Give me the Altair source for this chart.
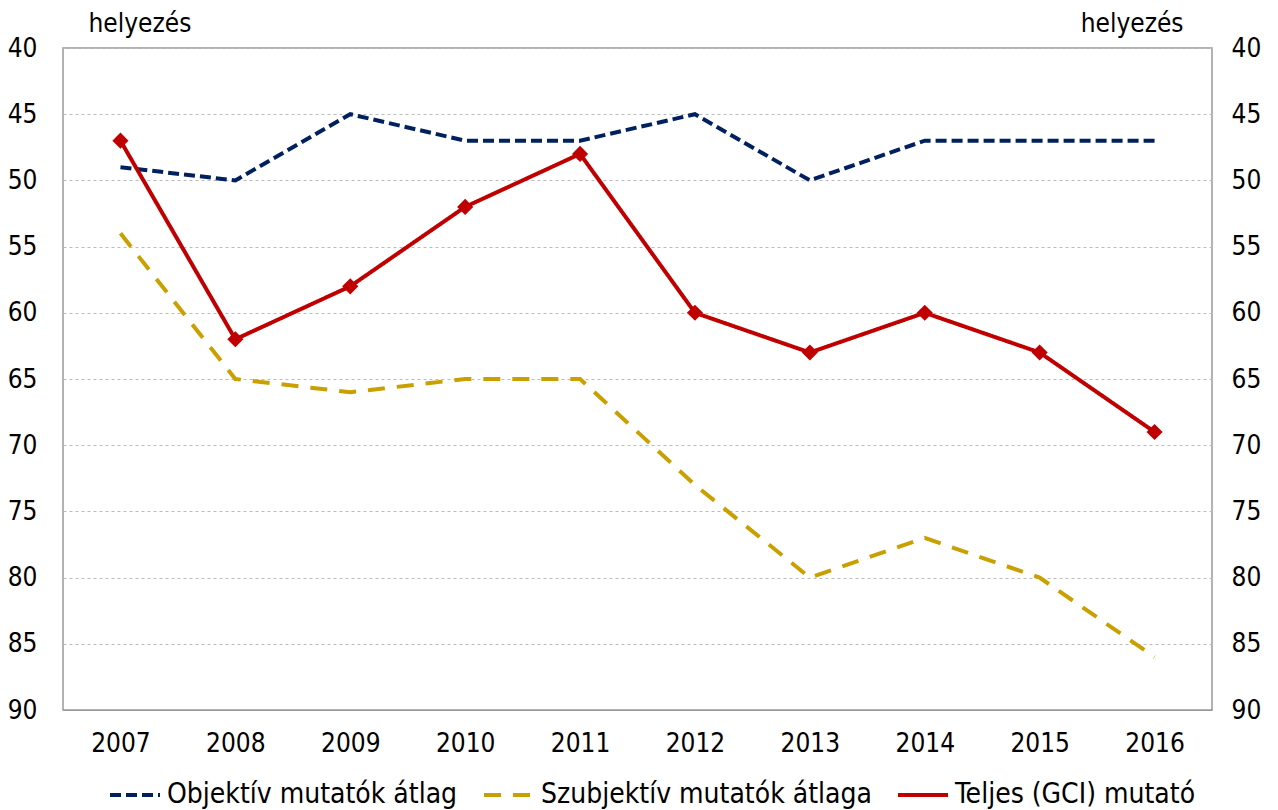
import altair as alt
import pandas as pd

years = ["2007", "2008", "2009", "2010", "2011", "2012", "2013", "2014", "2015", "2016"]
objektiv = [49, 50, 45, 47, 47, 45, 50, 47, 47, 47]
szubjektiv = [54, 65, 66, 65, 65, 73, 80, 77, 80, 86]
teljes = [47, 62, 58, 52, 48, 60, 63, 60, 63, 69]

series_names = ["Objektív mutatók átlag", "Szubjektív mutatók átlaga", "Teljes (GCI) mutató"]
colors = ["#002060", "#C9A000", "#C00000"]
dashes = [[11, 5], [17, 12], [1, 0]]

rows = []
for name, vals in zip(series_names, [objektiv, szubjektiv, teljes]):
    for y, v in zip(years, vals):
        rows.append({"ev": y, "sorozat": name, "helyezes": v})
df = pd.DataFrame(rows)

FONT = "DejaVu Sans Condensed"
FS = 26

x_enc = alt.X("ev:N", scale=alt.Scale(type="point", padding=0.5),
              axis=alt.Axis(title=None, labelAngle=0, ticks=False, labelPadding=20,
                            labelFontSize=FS, domainColor="#999999", grid=False))

y_scale = alt.Scale(domain=[40, 90], reverse=True, nice=False, zero=False)

lines = alt.Chart(df).mark_line(strokeWidth=4).encode(
    x=x_enc,
    y=alt.Y("helyezes:Q", scale=y_scale,
            axis=alt.Axis(values=list(range(40, 95, 5)), title="helyezés", titleAngle=0,
                          titleX=25, titleY=-17, titleAlign="left", titleBaseline="alphabetic",
                          titleFontSize=FS, titleFontWeight="normal",
                          ticks=False, labelPadding=26, labelFontSize=FS, domain=False,
                          grid=True, gridDash=[3, 3], gridColor="#bbbbbb")),
    color=alt.Color("sorozat:N", scale=alt.Scale(domain=series_names, range=colors),
                    legend=alt.Legend(title=None, orient="none", direction="horizontal",
                                      legendX=45, legendY=720, labelFontSize=28, labelLimit=0,
                                      symbolType="stroke", symbolSize=2500,
                                      symbolStrokeWidth=4, columnPadding=18, labelOffset=5)),
    strokeDash=alt.StrokeDash("sorozat:N", scale=alt.Scale(domain=series_names, range=dashes),
                              legend=None),
)

points = alt.Chart(df).transform_filter(
    alt.datum.sorozat == "Teljes (GCI) mutató"
).mark_point(shape="diamond", filled=True, size=260, opacity=1, color="#C00000").encode(
    x=x_enc,
    y=alt.Y("helyezes:Q", scale=y_scale, axis=None),
)

right = alt.Chart(df).mark_line(opacity=0).encode(
    x=x_enc,
    y=alt.Y("helyezes:Q", scale=y_scale,
            axis=alt.Axis(orient="right", values=list(range(40, 95, 5)), title="helyezés",
                          titleAngle=0, titleX=-29, titleY=-17, titleAlign="right",
                          titleBaseline="alphabetic", titleFontSize=FS, titleFontWeight="normal",
                          ticks=False, labelPadding=19, labelFontSize=FS, domain=False,
                          grid=False)),
    detail="sorozat:N",
)

chart = alt.layer(lines, points, right).resolve_scale(y="independent").properties(
    width=1149, height=662,
    autosize=alt.AutoSizeParams(type="none"),
    padding={"left": 55, "top": 40, "right": 50, "bottom": 100},
).configure(font=FONT).configure_view(stroke="#999999", strokeWidth=1.5).configure_axis(
    labelFont=FONT, titleFont=FONT, labelColor="#000000", titleColor="#000000"
).configure_legend(labelFont=FONT, labelColor="#000000")

chart.save("out.html", embed_options={"renderer": "svg", "actions": False})
